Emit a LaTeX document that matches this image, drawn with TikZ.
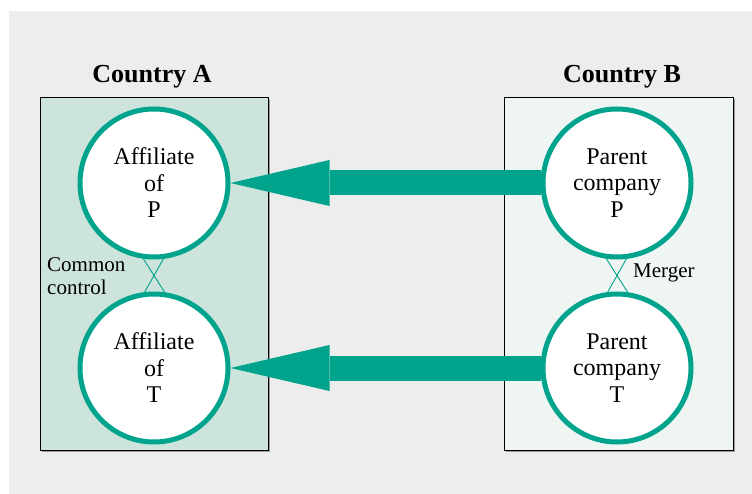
\documentclass[tikz,border=0pt]{standalone}
\usepackage{fontspec}
\setmainfont{Liberation Serif}
\usepackage{tikz}
\usetikzlibrary{arrows.meta,calc,positioning,shadows}

\definecolor{flowteal}{RGB}{0,163,140}
\definecolor{panelgray}{RGB}{237,237,237}
\definecolor{countryafill}{RGB}{204,228,219}
\definecolor{countrybfill}{RGB}{238,245,242}

\begin{document}
\begin{tikzpicture}[
    x=1pt,
    y=-1pt,
    firm/.style={circle, draw=flowteal, fill=white, line width=5pt, minimum size=148pt, inner sep=0pt, align=center, font=\fontsize{24}{26.5}\selectfont},
    country/.style={draw=black, line width=0.8pt, drop shadow={shadow xshift=1.6pt, shadow yshift=-1.6pt, fill=black!40, opacity=1}},
    title/.style={inner sep=0pt, font=\fontsize{26}{30}\selectfont\bfseries},
    tag/.style={inner sep=0pt, font=\fontsize{21}{22.5}\selectfont},
    flow/.style={line width=25pt, draw=flowteal, -{Triangle[length=99pt, width=46pt, line width=0pt]}},
    tie/.style={draw=flowteal, line width=0.9pt}
]
\useasboundingbox (0,0) rectangle (752,494);
\fill[panelgray] (9,11) rectangle (752,494);

% country panels
\path[country, fill=countryafill] (40,97) rectangle (268,450);
\path[country, fill=countrybfill] (504,97) rectangle (733,450);
\node[title] (ctya) at (152,77) {Country A};
\node[title] (ctyb) at (622,77) {Country B};

% firms
\node[firm] (affP) at (154,183) {Affiliate\\of\\P};
\node[firm] (affT) at (154,368) {Affiliate\\of\\T};
\node[firm] (parP) at (617,183) {Parent\\company\\P};
\node[firm] (parT) at (617,368) {Parent\\company\\T};

% links between the firms of one country
\draw[tie] (affP.262.5) -- (affT.82.5);
\draw[tie] (affP.277.5) -- (affT.97.5);
\draw[tie] (parP.262.5) -- (parT.82.5);
\draw[tie] (parP.277.5) -- (parT.97.5);

\node[tag, align=left, anchor=west] (common) at (47,276) {Common\\control};
\node[tag, anchor=west] (merger) at (633,273) {Merger};

% investment flows
\draw[flow] (parP.west) -- (affP.east);
\draw[flow] (parT.west) -- (affT.east);
\end{tikzpicture}
\end{document}
